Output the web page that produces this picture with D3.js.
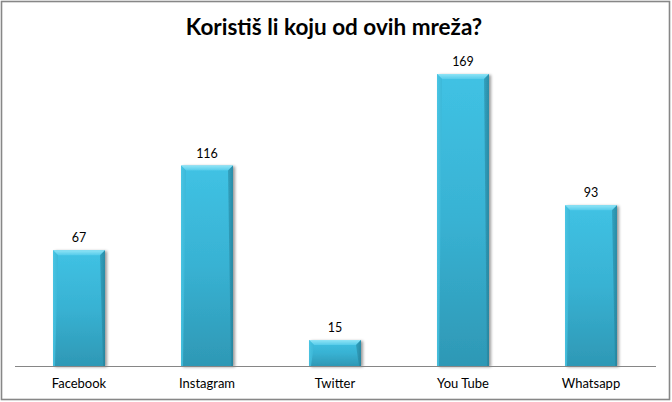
<!DOCTYPE html>
<html><head><meta charset="utf-8">
<script src="https://cdn.jsdelivr.net/npm/d3@7"></script>
<style>html,body{margin:0;padding:0;background:#fff}svg{display:block}</style>
</head><body>
<script>
const categories = ["Facebook", "Instagram", "Twitter", "You Tube", "Whatsapp"];
const values = [67, 116, 15, 169, 93];
const title = "Koristiš li koju od ovih mreža?";

const W = 672, H = 402;
const svg = d3.select("body").append("svg").attr("width", W).attr("height", H);
const defs = svg.append("defs");

const gBody = defs.append("linearGradient").attr("id","body").attr("x1",0).attr("y1",0).attr("x2",0).attr("y2",1);
gBody.append("stop").attr("offset","0%").attr("stop-color","#40c2e4");
gBody.append("stop").attr("offset","50%").attr("stop-color","#38b2d3");
gBody.append("stop").attr("offset","100%").attr("stop-color","#2e98b5");
const gTop = defs.append("linearGradient").attr("id","topbev").attr("x1",0).attr("y1",0).attr("x2",0).attr("y2",1);
gTop.append("stop").attr("offset","0%").attr("stop-color","#8fe4f6");
gTop.append("stop").attr("offset","100%").attr("stop-color","#55cbea");
const gRight = defs.append("linearGradient").attr("id","rightbev").attr("x1",0).attr("y1",0).attr("x2",1).attr("y2",0);
gRight.append("stop").attr("offset","0%").attr("stop-color","#2f9ab6");
gRight.append("stop").attr("offset","100%").attr("stop-color","#257f98");
const gLeft = defs.append("linearGradient").attr("id","leftbev").attr("x1",0).attr("y1",0).attr("x2",1).attr("y2",0);
gLeft.append("stop").attr("offset","0%").attr("stop-color","#4cc6e4");
gLeft.append("stop").attr("offset","100%").attr("stop-color","#3bb6d6");
const shadow = defs.append("filter").attr("id","sh").attr("x","-20%").attr("y","-20%").attr("width","150%").attr("height","150%");
shadow.append("feGaussianBlur").attr("in","SourceAlpha").attr("stdDeviation",1.5);
shadow.append("feOffset").attr("dx",2).attr("dy",1).attr("result","b");
shadow.append("feComponentTransfer").append("feFuncA").attr("type","linear").attr("slope",0.4);
const mg = shadow.append("feMerge");
mg.append("feMergeNode"); mg.append("feMergeNode").attr("in","SourceGraphic");

svg.append("rect").attr("x",1.5).attr("y",1.5).attr("width",668).attr("height",398)
  .attr("fill","#fff").attr("stroke","#878787").attr("stroke-width",1.6);

svg.append("text").attr("x",334).attr("y",35).attr("text-anchor","middle")
  .attr("font-family","Lato, 'Open Sans', sans-serif").attr("font-weight","bold")
  .attr("font-size",22.5).attr("fill","#000").text(title);

const x = d3.scaleBand().domain(categories).range([15, 655]).paddingInner(0.594).paddingOuter(0.297);
const y = d3.scaleLinear().domain([0, 180]).range([366, 55]);

const g = svg.append("g");
const bars = g.selectAll("g.bar").data(categories.map((c,i)=>({c, v: values[i]}))).join("g");
bars.each(function(d){
  const s = d3.select(this);
  const x0 = x(d.c), w = x.bandwidth(), y0 = y(d.v), h = y(0) - y(d.v);
  const b = 5;
  const grp = s.append("g").attr("filter","url(#sh)");
  grp.append("rect").attr("x",x0).attr("y",y0).attr("width",w).attr("height",h).attr("fill","url(#body)");
  grp.append("path").attr("d",`M${x0},${y0}L${x0+w},${y0}L${x0+w-b},${y0+b}L${x0+b},${y0+b}Z`).attr("fill","url(#topbev)");
  grp.append("path").attr("d",`M${x0+w},${y0}L${x0+w},${y0+h}L${x0+w-2},${y0+h}L${x0+w-b},${y0+b}Z`).attr("fill","url(#rightbev)").attr("opacity",0.8);
  grp.append("path").attr("d",`M${x0},${y0}L${x0+b},${y0+b}L${x0+2},${y0+h}L${x0},${y0+h}Z`).attr("fill","url(#leftbev)").attr("opacity",0.8);
  s.append("text").attr("x",x0+w/2).attr("y",y0-8).attr("text-anchor","middle")
    .attr("font-family","Lato, 'Open Sans', sans-serif").attr("font-size",12.5).attr("fill","#000").text(d.v);
});

svg.append("line").attr("x1",15).attr("x2",656).attr("y1",366.5).attr("y2",366.5).attr("stroke","#868686").attr("stroke-width",1);

svg.append("g").selectAll("text").data(categories).join("text")
  .attr("x", d=>x(d)+x.bandwidth()/2).attr("y",388).attr("text-anchor","middle")
  .attr("font-family","Lato, 'Open Sans', sans-serif").attr("font-size",13).attr("fill","#000").text(d=>d);
</script>
</body></html>
